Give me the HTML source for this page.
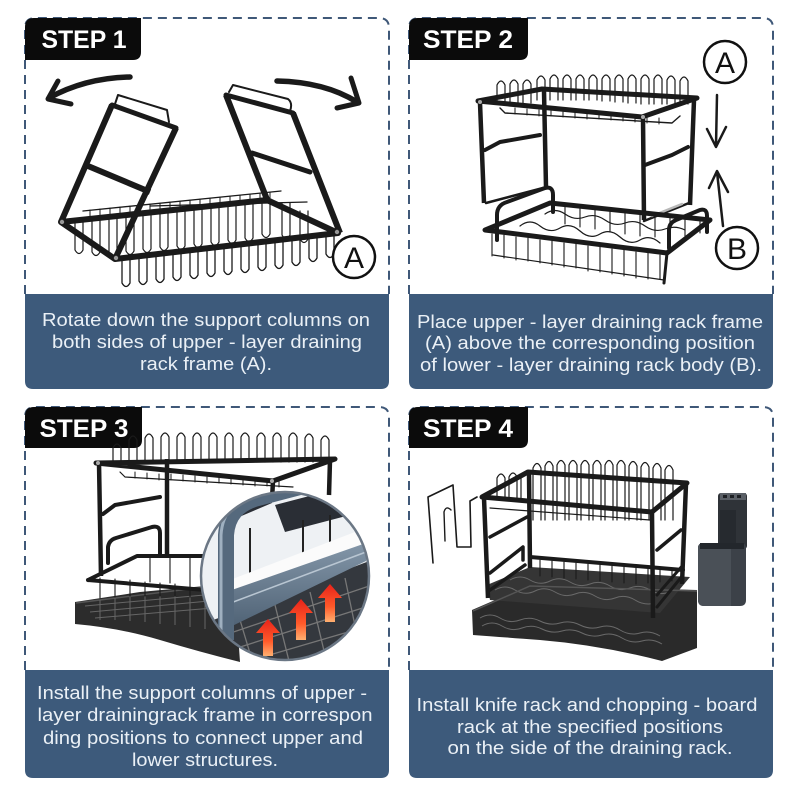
<!DOCTYPE html>
<html><head><meta charset="utf-8">
<style>
html,body{margin:0;padding:0;background:#fff;}
svg{display:block;}
text{font-family:"Liberation Sans",sans-serif;}
</style></head><body>
<svg width="800" height="800" viewBox="0 0 800 800" xmlns="http://www.w3.org/2000/svg">
<defs>
<linearGradient id="red" x1="0" y1="0" x2="0" y2="1"><stop offset="0" stop-color="#e8231a"/><stop offset="0.6" stop-color="#ff5a2a"/><stop offset="1" stop-color="#ffb070"/></linearGradient>
<linearGradient id="bar" x1="0" y1="0" x2="0" y2="1"><stop offset="0" stop-color="#8396a8"/><stop offset="1" stop-color="#4f6275"/></linearGradient>
<clipPath id="mag"><circle cx="285" cy="576" r="84"/></clipPath>
</defs>
<rect width="800" height="800" fill="#fff"/>

<!-- ================= PANEL FRAMES ================= -->
<g fill="none" stroke="#3f5878" stroke-width="2" stroke-dasharray="9 6">
<path d="M25 294 V28 Q25 18 35 18 H379 Q389 18 389 28 V294"/>
<path d="M409 294 V28 Q409 18 419 18 H763 Q773 18 773 28 V294"/>
<path d="M25 670 V417 Q25 407 35 407 H379 Q389 407 389 417 V670"/>
<path d="M409 670 V417 Q409 407 419 407 H763 Q773 407 773 417 V670"/>
</g>
<g fill="#3d5a7b">
<path d="M25 294 H389 V381 Q389 389 381 389 H33 Q25 389 25 381 Z"/>
<path d="M409 294 H773 V381 Q773 389 765 389 H417 Q409 389 409 381 Z"/>
<path d="M25 670 H389 V770 Q389 778 381 778 H33 Q25 778 25 770 Z"/>
<path d="M409 670 H773 V770 Q773 778 765 778 H417 Q409 778 409 770 Z"/>
</g>
<!-- labels -->
<g fill="#0b0b0b">
<path d="M25 60 V27 Q25 18 34 18 H141 V52 Q141 60 133 60 Z"/>
<path d="M409 60 V27 Q409 18 418 18 H528 V52 Q528 60 520 60 Z"/>
<path d="M25 448 V416 Q25 407 34 407 H142 V440 Q142 448 134 448 Z"/>
<path d="M409 448 V416 Q409 407 418 407 H528 V440 Q528 448 520 448 Z"/>
</g>
<g fill="#fff" font-weight="bold" font-size="25" text-anchor="middle">
<text x="84" y="48" textLength="85" lengthAdjust="spacingAndGlyphs">STEP 1</text>
<text x="468" y="48" textLength="90" lengthAdjust="spacingAndGlyphs">STEP 2</text>
<text x="84" y="437" textLength="89" lengthAdjust="spacingAndGlyphs">STEP 3</text>
<text x="468" y="437" textLength="90" lengthAdjust="spacingAndGlyphs">STEP 4</text>
</g>

<!-- band text -->
<g fill="#eaf0f6" font-size="18.5" text-anchor="middle">
<text x="206" y="326" textLength="328" lengthAdjust="spacingAndGlyphs">Rotate down the support columns on</text>
<text x="207" y="348" textLength="310" lengthAdjust="spacingAndGlyphs">both sides of upper - layer draining</text>
<text x="206" y="370" textLength="132" lengthAdjust="spacingAndGlyphs">rack frame (A).</text>

<text x="590" y="328" textLength="346" lengthAdjust="spacingAndGlyphs">Place upper - layer draining rack frame</text>
<text x="590" y="349" textLength="330" lengthAdjust="spacingAndGlyphs">(A) above the corresponding position</text>
<text x="591" y="371" textLength="342" lengthAdjust="spacingAndGlyphs">of lower - layer draining rack body (B).</text>

<text x="202" y="699" textLength="330" lengthAdjust="spacingAndGlyphs">Install the support columns of upper -</text>
<text x="205" y="721" textLength="335" lengthAdjust="spacingAndGlyphs">layer drainingrack frame in correspon</text>
<text x="203" y="744" textLength="320" lengthAdjust="spacingAndGlyphs">ding positions to connect upper and</text>
<text x="205" y="766" textLength="146" lengthAdjust="spacingAndGlyphs">lower structures.</text>

<text x="587" y="711" textLength="341" lengthAdjust="spacingAndGlyphs">Install knife rack and chopping - board</text>
<text x="590" y="733" textLength="266" lengthAdjust="spacingAndGlyphs">rack at the specified positions</text>
<text x="590" y="754" textLength="285" lengthAdjust="spacingAndGlyphs">on the side of the draining rack.</text>
</g>

<!-- ================= STEP 1 ================= -->
<g stroke="#1a1a1a" fill="none" stroke-linecap="round" stroke-linejoin="round">
<path d="M130 77 Q85 78 49 98" stroke-width="5.5"/>
<path d="M58 81 L48 99 L71 104" stroke-width="5"/>
<path d="M277 81 Q325 82 357 102" stroke-width="5.5"/>
<path d="M351 78 L359 103 L337 108" stroke-width="5"/>
<!-- back loops -->
<path stroke-width="1.2" d="M75 220v30q4 7 8 0v-30M92 218v34q4 7 8 0v-34M109 217v36q4 7 8 0v-36M126 215v36q4 7 8 0v-36M143 213v36q4 7 8 0v-36M160 211v36q4 7 8 0v-36M177 210v36q4 7 8 0v-36M194 208v36q4 7 8 0v-36M211 206v36q4 7 8 0v-36M228 204v36q4 7 8 0v-36M245 202v36q4 7 8 0v-36M262 200v34q4 7 8 0v-34M282 203v32q4 7 8 0v-32M300 211v28q4 7 8 0v-28"/>
<!-- front loops -->
<path stroke-width="1.3" d="M122 259v24q4 7 8 0v-24M139 257v24q4 7 8 0v-24M156 255v24q4 7 8 0v-24M173 253v24q4 7 8 0v-24M190 251v24q4 7 8 0v-24M207 249v24q4 7 8 0v-24M224 247v24q4 7 8 0v-24M241 245v24q4 7 8 0v-24M258 243v24q4 7 8 0v-24M275 241v24q4 7 8 0v-24M292 239v23q4 7 8 0v-23M309 237v21q4 7 8 0v-21M326 235v19q4 7 8 0v-19"/>
<!-- rails -->
<path stroke-width="1.3" d="M83 211 L281 191 M150 206 L307 202"/>
<path stroke-width="1" d="M90 210v6M100 209v6M110 208v6M120 207v6M130 206v6M140 205v6M150 204v6M160 203v6M170 202v6M180 201v6M190 200v6M200 199v6M210 198v6M220 197v6M230 196v6M240 195v6M250 194v6M260 193v6M270 192v6"/>
<!-- rack frame -->
<path stroke-width="6" stroke-linecap="butt" d="M61 222 L115 259 L338 233 L267 200 Z"/>
<!-- left column -->
<path stroke-width="6" stroke-linecap="butt" d="M61 222 L112 105 M115 259 L176 128 M88 166 L150 192"/>
<path stroke-width="5" d="M112 105 L176 128"/>
<path stroke-width="2" d="M115 104 L118 95 L167 110 L169 122"/>
<!-- right column -->
<path stroke-width="6" stroke-linecap="butt" d="M226 95 L268 202 M293 113 L340 233"/>
<path stroke-width="5" d="M226 95 L293 113 M252 153 L310 172"/>
<path stroke-width="2" d="M229 92 L233 85 L288 99 Q293 103 290 111"/>
</g>
<g fill="#999"><circle cx="62" cy="222" r="2.2"/><circle cx="116" cy="258" r="2.2"/><circle cx="337" cy="232" r="2.2"/></g>
<circle cx="354" cy="257" r="21" fill="#fff" stroke="#111" stroke-width="2.5"/>
<text x="354" y="268" font-size="30" text-anchor="middle" fill="#111">A</text>

<!-- ================= STEP 2 ================= -->
<circle cx="725" cy="62" r="21" fill="#fff" stroke="#111" stroke-width="2.5"/>
<text x="725" y="73" font-size="30" text-anchor="middle" fill="#111">A</text>
<circle cx="737" cy="248" r="21" fill="#fff" stroke="#111" stroke-width="2.5"/>
<text x="737" y="259" font-size="30" text-anchor="middle" fill="#111">B</text>
<g stroke="#1a1a1a" fill="none" stroke-linecap="round" stroke-linejoin="round">
<path stroke-width="2.5" d="M717 95 L716 146 M707 129 L716 147 L726 127"/>
<path stroke-width="2.5" d="M723 226 L717 172 M709 188 L717 171 L728 192"/>
<!-- top loops -->
<path stroke-width="1.2" d="M497 103V85q4-8 8 0V103M510 103V84q4-8 8 0V103M523 103V84q4-8 8 0V103M537 100V80q4-8 8 0V100M550 100V79q4-8 8 0V100M563 100V79q4-8 8 0V100M576 100V79q4-8 8 0V100M589 100V79q4-8 8 0V100M602 101V79q4-8 8 0V101M615 102V79q4-8 8 0V102M628 103V79q4-8 8 0V103M641 104V79q4-8 8 0V104M654 104V79q4-8 8 0V104M667 104V80q4-8 8 0V104M680 104V81q4-8 8 0V104"/>
<path stroke-width="1.4" d="M505 113 L672 123 M500 108 L505 113 M672 123 L680 116"/>
<path stroke-width="1" d="M515 108v6M527 109v6M539 110v6M551 110v6M563 111v6M575 112v6M587 113v6M599 113v6M611 114v6M623 115v6M635 116v6M647 117v6M659 118v6"/>
<!-- upper frame -->
<path stroke-width="5" d="M478 101 L542 89 L697 98 L642 117 Z"/>
<path stroke-width="4.5" stroke-linecap="butt" d="M480 103 L484 203 M544 91 L546 187 M643 118 L644 220 M694 100 L690 205"/>
<path stroke-width="4" d="M485 150 L500 142 L540 135 M645 165 L672 155 L688 147"/>
<path stroke-width="2.5" d="M486 203 L543 188 M644 221 L689 203"/>
<path stroke-width="2.5" stroke="#b8b8b8" d="M652 216 L682 204"/>
<!-- lower rack wires -->
<path stroke-width="1.1" d="M492 234v22M504 235v23M516 237v23M528 238v23M540 240v23M552 241v24M564 243v24M576 244v24M588 246v25M600 247v25M612 249v25M624 250v26M636 252v26M648 253v26M660 255v24"/>
<path stroke-width="1.2" d="M493 255 L664 280"/>
<path stroke-width="1.1" d="M565 206v18M580 207v20M595 209v20M610 210v22M625 212v22M640 214v22M655 215v22M670 217v22M685 218v18M700 219v14"/>
<path stroke-width="1.2" d="M520 226 Q530 218 540 226 T560 228 T580 231 T600 234 T620 237 T640 240 T660 243"/>
<path stroke-width="1.2" d="M545 214 Q555 207 565 214 T585 217 T605 220 T625 223 T645 226 T665 229 T685 230"/>
<!-- lower frame -->
<path stroke-width="5" d="M485 230 L550 203 L710 220 L667 253 Z"/>
<path stroke-width="4" d="M497 240 V215 Q497 205 507 202 L545 188 Q553 186 553 195 V212"/>
<path stroke-width="4" d="M669 248 V230 Q669 223 676 220 L700 210 Q707 208 707 216 V232"/>
<path stroke-width="3" d="M667 253 L664 283"/>
</g>
<g fill="#aaa"><circle cx="480" cy="102" r="2"/><circle cx="643" cy="117" r="2"/></g>

<!-- ================= STEP 3 ================= -->
<!-- tray -->
<path d="M75 602 L140 592 L205 586 L235 590 L240 662 Q200 652 160 640 Q120 628 75 624 Z" fill="#2c2c2c"/>
<path d="M76 603 L205 587" stroke="#555" stroke-width="1.5" fill="none"/>
<g stroke="#666" stroke-width="1" fill="none">
<path d="M85 606 L215 594 M90 612 L220 600 M95 618 L225 607"/>
<path d="M100 600v20M115 598v22M130 597v24M145 595v27M160 594v30M175 592v33M190 590v37M205 589v40"/>
</g>
<g stroke="#1a1a1a" fill="none" stroke-linecap="round" stroke-linejoin="round">
<path stroke-width="1.2" d="M113 462V448q4-8 8 0V462M129 462V440q4-8 8 0V462M145 462V438q4-8 8 0V462M161 462V437q4-8 8 0V462M177 462V437q4-8 8 0V462M193 462V437q4-8 8 0V462M209 462V437q4-8 8 0V462M225 462V437q4-8 8 0V462M241 462V437q4-8 8 0V462M257 462V437q4-8 8 0V462M273 462V437q4-8 8 0V462M289 462V437q4-8 8 0V462M305 462V438q4-8 8 0V462M321 462V440q4-8 8 0V462"/>
<path stroke-width="1.2" d="M125 477 L293 487 M120 472 L125 477"/>
<path stroke-width="1" d="M135 472v6M147 473v6M159 474v6M171 474v6M183 475v6M195 476v6M207 477v6M219 477v6M231 478v6M243 479v6M255 480v6M267 480v6M279 481v6"/>
<path stroke-width="5" d="M96 463 L335 459 M96 463 L273 481 L335 459"/>
<path stroke-width="4.5" stroke-linecap="butt" d="M99 463 L101 576 M167 459 L167 556 M330 460 L329 495 M273 481 L272 500"/>
<path stroke-width="4" d="M103 514 L115 505 L160 497"/>
<path stroke-width="4" d="M108 563 V547 Q109 540 116 538 L152 527 Q160 525 160 533 V556"/>
<path stroke-width="4" d="M88 580 L205 590 M88 580 L137 556 L205 556"/>
<path stroke-width="1.1" d="M100 578v20M115 579v18M130 580v16M145 582v14M160 583v13M175 584v12M190 585v12M150 557v25M170 557v26M190 557v28"/>
</g>
<g fill="#aaa"><circle cx="98" cy="463" r="2"/><circle cx="272" cy="481" r="2"/></g>
<!-- magnifier -->
<g clip-path="url(#mag)">
<rect x="195" y="485" width="185" height="185" fill="#eef1f4"/>
<polygon points="275,505 340,488 350,515 285,532" fill="#2a2e35"/>
<polygon points="228,510 268,495 272,503 232,520" fill="#2a2e35"/>
<path d="M250 528 V578 M303 520 V565 M330 515 V560" stroke="#222" stroke-width="2" fill="none"/>
<polygon points="200,625 372,560 372,672 198,672" fill="#34383e"/>
<g stroke="#777" stroke-width="1.3" fill="none">
<path d="M210 640 L372 585 M215 655 L372 605 M225 668 L372 625"/>
<path d="M240 620 L255 670 M275 605 L290 665 M310 592 L325 655 M345 578 L358 640"/>
</g>
<polygon points="230,580 368,527 368,545 230,598" fill="#fbfbfb"/>
<polygon points="226,592 366,543 366,561 228,628" fill="url(#bar)"/>
<path d="M228 604 L366 552" stroke="#b9c6d2" stroke-width="1.5" fill="none"/>
<path d="M226 640 L226 535 Q228 506 258 498 L365 470" stroke="#55697d" stroke-width="16" fill="none"/>
<path d="M221 630 L221 535 Q223 503 255 494 L360 466" stroke="#9fb0c0" stroke-width="3" fill="none"/>
<polygon points="268,619 280,633 273,633 273,656 263,656 263,633 256,633" fill="url(#red)"/>
<polygon points="301,599 313,613 306,613 306,640 296,640 296,613 289,613" fill="url(#red)"/>
<polygon points="330,584 342,598 335,598 335,622 325,622 325,598 318,598" fill="url(#red)"/>
</g>
<circle cx="285" cy="576" r="84" fill="none" stroke="#6b7785" stroke-width="2.5"/>

<!-- ================= STEP 4 ================= -->
<!-- tray -->
<path d="M472 610 L530 585 L697 590 L697 648 L662 661 Q600 645 540 640 Q500 637 473 635 Z" fill="#2a2a2a"/>
<polygon points="487,585 530,567 690,577 660,613 490,600" fill="#353535"/>
<g stroke="#6a6a6a" stroke-width="1" fill="none">
<path d="M495 590 Q505 584 515 590 T535 591 T555 592 T575 594 T595 596 T615 598 T635 600 T655 603"/>
<path d="M510 580 Q520 574 530 580 T550 581 T570 582 T590 584 T610 586 T630 588 T650 590 T670 592"/>
<path d="M480 618 Q490 612 500 618 T520 620 T540 621 T560 623 T580 625 T600 627 T620 630 T640 633 T660 636"/>
<path d="M482 626 Q492 620 502 626 T522 628 T542 629 T562 631 T582 633 T602 635 T622 638 T642 641 T662 644"/>
</g>
<path d="M473 611 L530 586 L697 591" stroke="#555" stroke-width="1.5" fill="none"/>
<g stroke="#1a1a1a" fill="none" stroke-linecap="round" stroke-linejoin="round">
<!-- hook -->
<path stroke-width="1.6" d="M433 563 L428 497 L453 485 L457 547 L471 547 L470 501 L477 497"/>
<path stroke-width="1.4" d="M445 541 L444 512 Q446 505 451 510"/>
<!-- loops -->
<path stroke-width="1.2" d="M533 520V468q4-9 8 0V520M545 520V466q4-9 8 0V520M557 520V465q4-9 8 0V520M569 520V465q4-9 8 0V520M581 520V465q4-9 8 0V520M593 520V465q4-9 8 0V520M605 520V465q4-9 8 0V520M617 520V465q4-9 8 0V520M629 520V466q4-9 8 0V520M641 520V467q4-9 8 0V520M653 520V468q4-9 8 0V520M665 520V470q4-9 8 0V520"/>
<path stroke-width="1.2" d="M497 500v-22q4-8 8 0v22M509 501v-24q4-8 8 0v24M521 502v-26q4-8 8 0v26"/>
<path stroke-width="1.2" d="M490 508 L650 520"/>
<!-- upper frame -->
<path stroke-width="5" d="M482 497 L528 472 L687 483 L652 512 Z"/>
<path stroke-width="4.5" stroke-linecap="butt" d="M484 498 L488 598 M529 473 L530 568 M652 513 L653 618 M686 484 L682 584"/>
<path stroke-width="3.5" d="M490 537 L527 517 M657 550 L681 530"/>
<path stroke-width="3.5" d="M490 573 L523 547 V560 M490 590 L525 565"/>
<path stroke-width="3" d="M657 607 L683 575 M657 595 L683 565"/>
<path stroke-width="4" d="M530 557 L683 570"/>
<path stroke-width="1.1" d="M540 560v16M552 561v16M564 562v16M576 563v16M588 564v16M600 565v16M612 566v16M624 567v16M636 568v16M648 569v14M660 570v12M672 571v10"/>
</g>
<!-- knife holder -->
<rect x="718" y="493" width="29" height="56" rx="3" fill="#2f3338"/>
<rect x="720" y="493" width="26" height="7" fill="#5a5f66"/>
<g fill="#1d2024"><rect x="723" y="495" width="4" height="3"/><rect x="730" y="495" width="4" height="3"/><rect x="737" y="495" width="4" height="3"/></g>
<rect x="720" y="510" width="16" height="33" fill="#262a2f"/>
<path d="M698 548 Q698 543 703 543 L741 543 Q746 543 746 548 L746 600 Q746 606 740 606 L704 606 Q698 606 698 600 Z" fill="#3c4148"/>
<path d="M698 548 Q698 543 703 543 L731 543 L731 606 L704 606 Q698 606 698 600 Z" fill="#4a5057"/>
<rect x="700" y="543" width="44" height="6" fill="#23272c"/>
</svg>
</body></html>
